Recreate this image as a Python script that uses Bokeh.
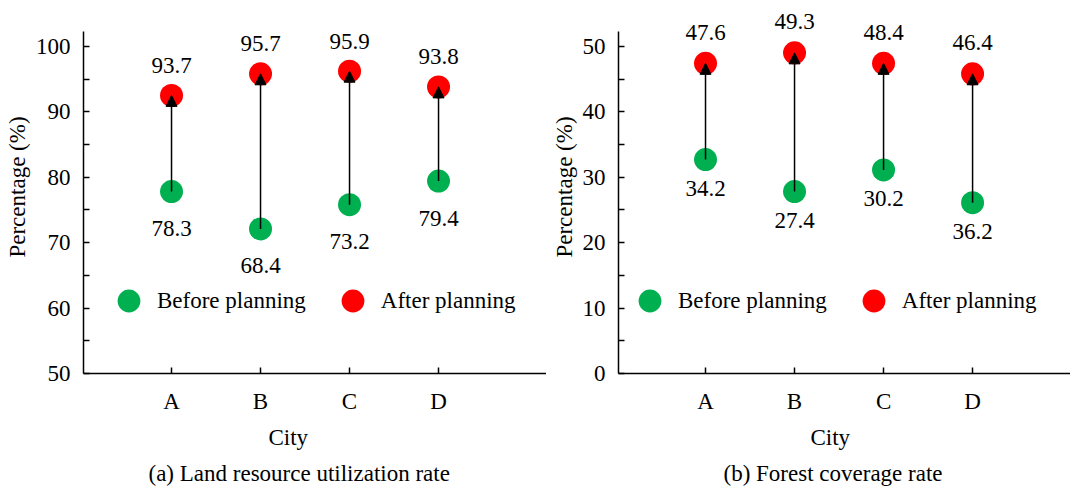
from bokeh.plotting import figure
from bokeh.models import (Range1d, FixedTicker, ColumnDataSource, Arrow, NormalHead,
                          Legend, LegendItem, Title, LabelSet)
from bokeh.layouts import row
from bokeh.embed import file_html
from bokeh.resources import INLINE

# ---------------- data ----------------
cities = ["A", "B", "C", "D"]

land_before = [77.8, 72.1, 75.8, 79.4]
land_after = [92.5, 95.8, 96.2, 93.8]
land_before_labels = ["78.3", "68.4", "73.2", "79.4"]
land_after_labels = ["93.7", "95.7", "95.9", "93.8"]

forest_before = [32.7, 27.8, 31.1, 26.1]
forest_after = [47.4, 49.0, 47.4, 45.8]
forest_before_labels = ["34.2", "27.4", "30.2", "36.2"]
forest_after_labels = ["47.6", "49.3", "48.4", "46.4"]

land_yticks = [50, 60, 70, 80, 90, 100]
land_yminor = [55, 65, 75, 85, 95]
forest_yticks = [0, 10, 20, 30, 40, 50]
forest_yminor = [5, 15, 25, 35, 45]

FONT = "Liberation Serif"
FS = "23px"
GREEN = "#00B050"
RED = "#FF0000"


def make_panel(before, after, blabels, alabels, yticks, yminor, y0, yaxis_top,
               y1, x0, x1, width, border_left, caption, city_off, cap_off, leg_x,
               dy_after, dy_before):
    xs = [i + 1 for i in range(len(cities))]
    src = ColumnDataSource(dict(x=xs, before=before, after=after,
                                bl=blabels, al=alabels))
    p = figure(width=width, height=488, output_backend="svg", toolbar_location=None,
               x_range=Range1d(x0, x1), y_range=Range1d(y0, y1),
               min_border_left=border_left, min_border_right=0,
               min_border_top=0, min_border_bottom=114)
    p.outline_line_color = None
    p.xgrid.visible = False
    p.ygrid.visible = False
    p.background_fill_color = "white"
    p.border_fill_color = "white"

    # axes
    xa = p.xaxis[0]
    xa.ticker = FixedTicker(ticks=xs)
    xa.major_label_overrides = {x: c for x, c in zip(xs, cities)}
    ya = p.yaxis[0]
    ya.ticker = FixedTicker(ticks=yticks, minor_ticks=yminor)
    ya.bounds = (y0, yaxis_top)
    for ax in (xa, ya):
        ax.axis_line_color = "black"
        ax.axis_line_width = 1.5
        ax.major_tick_in = 6
        ax.major_tick_out = 0
        ax.minor_tick_in = 6
        ax.minor_tick_out = 0
        ax.major_tick_line_color = "black"
        ax.minor_tick_line_color = "black"
        ax.major_tick_line_width = 1.5
        ax.minor_tick_line_width = 1.5
        ax.major_label_text_font = FONT
        ax.major_label_text_font_size = FS
        ax.major_label_text_color = "black"
        ax.axis_label_text_font = FONT
        ax.axis_label_text_font_size = FS
        ax.axis_label_text_font_style = "normal"
        ax.axis_label_text_color = "black"
    xa.minor_tick_line_color = None
    xa.major_label_standoff = 15
    ya.major_label_standoff = 13
    ya.axis_label = "Percentage (%)"
    ya.axis_label_standoff = 3

    # points
    g_red = p.scatter("x", "after", source=src, size=23, fill_color=RED,
                      line_color=None)
    g_green = p.scatter("x", "before", source=src, size=23, fill_color=GREEN,
                        line_color=None)

    # arrows
    p.add_layout(Arrow(end=NormalHead(size=11, fill_color="black", line_color="black",
                                      line_width=1),
                       x_start="x", y_start="before", x_end="x", y_end="after",
                       source=src, line_color="black", line_width=1.5))

    # value labels
    p.add_layout(LabelSet(x="x", y="after", text="al", source=src, text_font=FONT,
                          text_font_size=FS, text_align="center",
                          text_baseline="middle", text_color="black",
                          y_offset=dy_after))
    p.add_layout(LabelSet(x="x", y="before", text="bl", source=src, text_font=FONT,
                          text_font_size=FS, text_align="center",
                          text_baseline="middle", text_color="black",
                          y_offset=dy_before))

    # legend
    leg = Legend(items=[LegendItem(label="Before planning", renderers=[g_green]),
                        LegendItem(label="After planning", renderers=[g_red])],
                 orientation="horizontal", location=(leg_x, 44),
                 glyph_width=57, glyph_height=57, label_standoff=0, spacing=18,
                 padding=0, margin=0, border_line_color=None,
                 background_fill_alpha=0, label_text_font=FONT,
                 label_text_font_size=FS, label_text_color="black")
    p.add_layout(leg)

    # below titles
    p.add_layout(Title(text="City", align="left", offset=city_off, text_font=FONT,
                       text_font_size=FS, text_font_style="normal",
                       text_color="black", standoff=12), "below")
    p.add_layout(Title(text=caption, align="left", offset=cap_off, text_font=FONT,
                       text_font_size=FS, text_font_style="normal",
                       text_color="black", standoff=6), "below")
    return p


p1 = make_panel(land_before, land_after, land_before_labels, land_after_labels,
                land_yticks, land_yminor, 50, 102.3, 107.0, 0.011, 5.213,
                546, 83, "(a) Land resource utilization rate", 185, 65, 17,
                30, -37)
p2 = make_panel(forest_before, forest_after, forest_before_labels, forest_after_labels,
                forest_yticks, forest_yminor, 0, 52.3, 57.0, 0.0225, 5.1,
                524, 72, "(b) Forest coverage rate", 192, 105, 3,
                31, -29)

layout = row(p1, p2)
open("out.html", "w").write(file_html(layout, INLINE))
